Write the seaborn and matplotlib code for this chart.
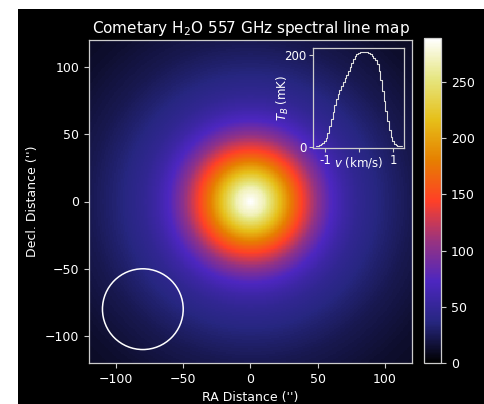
import numpy as np
import pandas as pd
import matplotlib
matplotlib.use("Agg")
import matplotlib.pyplot as plt
from matplotlib.patches import Circle, Rectangle
import seaborn as sns

# Radial brightness profile of the coma (arcsec -> mK)
radius_arcsec = [0, 10, 20, 30, 40, 50, 60, 70, 80, 100, 120, 150, 180]
tb_profile_mk = [289, 268, 224, 178, 138, 102, 74, 57, 46, 33, 23, 14, 9]

# Map extent and beam
map_half_width = 120
n_pix = 241
beam_center = (-80, -80)
beam_radius = 30

# Spectrum extracted at the nucleus (0.05 km/s channels)
velocity_kms = [-1.25, -1.20, -1.15, -1.10, -1.05, -1.00, -0.95, -0.90, -0.85, -0.80,
                -0.75, -0.70, -0.65, -0.60, -0.55, -0.50, -0.45, -0.40, -0.35, -0.30,
                -0.25, -0.20, -0.15, -0.10, -0.05, 0.00, 0.05, 0.10, 0.15, 0.20,
                0.25, 0.30, 0.35, 0.40, 0.45, 0.50, 0.55, 0.60, 0.65, 0.70,
                0.75, 0.80, 0.85, 0.90, 0.95, 1.00, 1.05, 1.10, 1.15, 1.20, 1.25]
spectrum_mk = [1, 2, 3, 5, 8, 12, 19, 29, 44, 60,
               76, 90, 103, 114, 124, 133, 141, 149, 157, 165,
               174, 183, 191, 197, 201, 204, 206, 207, 207, 207,
               206, 204, 201, 198, 194, 188, 180, 165, 145, 122,
               100, 78, 55, 36, 22, 12, 6, 3, 2, 1, 1]

map_ticks = [-100, -50, 0, 50, 100]
cbar_ticks = [0, 50, 100, 150, 200, 250]

sns.set_theme(style="dark")
plt.rcParams["font.family"] = ["DejaVu Sans"]
plt.rcParams["mathtext.fontset"] = "dejavusans"

fg = "white"
spine_col = "#cccccc"

# Build the map on a regular grid
coords = np.linspace(-map_half_width, map_half_width, n_pix + 1)
centers = 0.5 * (coords[:-1] + coords[1:])
xx, yy = np.meshgrid(centers, centers[::-1])
rr = np.hypot(xx, yy)
tb_map = np.interp(rr, radius_arcsec, tb_profile_mk)
df = pd.DataFrame(tb_map, index=centers[::-1], columns=centers)


def to_col(v):
    return (v + map_half_width) / (2 * map_half_width) * n_pix


def to_row(v):
    return (map_half_width - v) / (2 * map_half_width) * n_pix


W, H = 485, 404
fig = plt.figure(figsize=(W / 100, H / 100), dpi=100, facecolor="white")
fig.patches.append(Rectangle((18 / W, 0), 1, (H - 9) / H, transform=fig.transFigure,
                             facecolor="black", edgecolor="none", zorder=-10))

ax = fig.add_axes([88 / W, (H - 363) / H, 325 / W, 323 / H])
cax = fig.add_axes([424 / W, (H - 363) / H, 17 / W, 325 / H])

sns.heatmap(df, ax=ax, cmap="CMRmap", vmin=0, vmax=max(tb_profile_mk),
            cbar_ax=cax, xticklabels=False, yticklabels=False, rasterized=True)

ax.set_xticks([to_col(t) for t in map_ticks])
ax.set_xticklabels([f"{t}".replace("-", "\u2212") for t in map_ticks])
ax.set_yticks([to_row(t) for t in map_ticks])
ax.set_yticklabels([f"{t}".replace("-", "\u2212") for t in map_ticks], rotation=0)
ax.set_xlim(0, n_pix)
ax.set_ylim(n_pix, 0)
ax.set_aspect("equal")
ax.tick_params(colors=spine_col, labelcolor=fg, labelsize=9, length=3.5, width=0.8,
               bottom=True, left=True)
for s in ax.spines.values():
    s.set_visible(True)
    s.set_color(spine_col)
    s.set_linewidth(0.9)
ax.set_xlabel("RA Distance ('')", color=fg, fontsize=9)
ax.set_ylabel("Decl. Distance ('')", color=fg, fontsize=9)
ax.set_title("Cometary H$_2$O 557 GHz spectral line map", color=fg, fontsize=11, pad=5)

# Beam
ax.add_patch(Circle((to_col(beam_center[0]), to_row(beam_center[1])),
                    beam_radius / (2 * map_half_width) * n_pix,
                    fill=False, edgecolor="white", linewidth=1.1))

# Colorbar styling
cb = ax.collections[0].colorbar
cb.set_ticks(cbar_ticks)
cb.outline.set_edgecolor(spine_col)
cb.outline.set_linewidth(0.9)
cax.tick_params(colors=spine_col, labelcolor=fg, labelsize=9, length=3.5, width=0.8)
cb.set_label("$T_B$ (mK)", color=fg, fontsize=9, labelpad=12)

# Inset spectrum
iax = fig.add_axes([313 / W, (H - 148) / H, 91 / W, 100 / H])
iax.patch.set_alpha(0)
sns.lineplot(x=velocity_kms, y=spectrum_mk, ax=iax, drawstyle="steps-mid",
             color="#dddddd", linewidth=0.8)
iax.set_xlim(-1.35, 1.32)
iax.set_ylim(-3, 215)
iax.set_xticks([-1, 0, 1])
iax.set_xticklabels(["-1", "", "1"])
iax.set_yticks([0, 200])
iax.tick_params(colors=spine_col, labelcolor=fg, labelsize=8.5, length=3, width=0.8,
                bottom=True, left=True, pad=1.5)
for s in iax.spines.values():
    s.set_visible(True)
    s.set_color(spine_col)
    s.set_linewidth(0.9)
iax.set_xlabel("$v$ (km/s)", color=fg, fontsize=8.5, labelpad=-9)
iax.set_ylabel("$T_B$ (mK)", color=fg, fontsize=8.5, labelpad=-5)
iax.grid(False)

fig.savefig("out.png", dpi=100, facecolor=fig.get_facecolor())
